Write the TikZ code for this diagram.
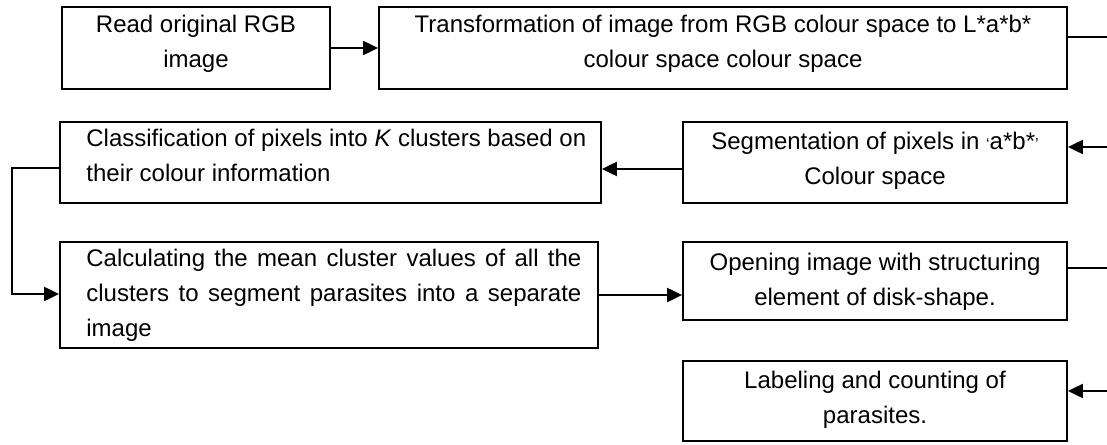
\documentclass[tikz,border=0pt]{standalone}
\usepackage{fontspec}
\setmainfont{Liberation Sans}
\usetikzlibrary{arrows.meta,fit}
\begin{document}
\begin{tikzpicture}[x=0.5pt,y=-0.5pt,
  box/.style={draw, line width=0.9pt, inner sep=0pt, fit={#1}},
  txt/.style={inner sep=0pt, anchor=north, font=\fontsize{12}{17.5}\selectfont, align=center},
  link/.style={line width=1.05pt},
  arrow/.style={link, -{Triangle[length=7.5pt,width=7pt]}}]
\useasboundingbox (0,0) rectangle (1107,444);

% process boxes
\node[box={(62,7) (330,89)}]     (read)  {};
\node[box={(379,7) (1067,89)}]   (trans) {};
\node[box={(683,122) (1067,203)}] (seg)  {};
\node[box={(60,122) (601,203)}]  (class) {};
\node[box={(60,242) (598,348)}]  (calc)  {};
\node[box={(683,242) (1067,320)}] (open) {};
\node[box={(683,361) (1067,441)}] (label) {};

% box texts
\node[txt] (tread)  at ([yshift=-4.5pt]read.north)  {Read original RGB\\image};
\node[txt] (ttrans) at ([yshift=-4.5pt]trans.north) {Transformation of image from RGB colour space to L*a*b*\\colour space colour space};
\node[txt] (tseg)   at ([yshift=-5.5pt]seg.north)   {Segmentation of pixels in {\footnotesize‘}a*b*{\footnotesize’}\\Colour space};
\node[txt, anchor=north west, align=left] (tclass) at (86,129)
  {Classification of pixels into \textit{K} clusters based on\\their colour information};
\node[txt, anchor=north west, align=justify, text width=247.5pt] (tcalc) at (86,249)
  {Calculating the mean cluster values of all the\linebreak clusters to segment parasites into a separate\linebreak image};
\node[txt] (topen)  at ([yshift=-6pt]open.north)  {Opening image with structuring\\element of disk-shape.};
\node[txt] (tlabel) at ([yshift=-5.5pt]label.north) {Labeling and counting of\\parasites.};

% loose ends at the right margin
\coordinate (r1) at (1107,37);
\coordinate (r2) at (1107,147);
\coordinate (r3) at (1107,268);
\coordinate (r4) at (1107,391);
\coordinate (l1) at (12,168);
\coordinate (l2) at (12,294);

% connectors
\draw[arrow] (read) -- (trans);
\draw[link]  (trans.east |- r1) -- (r1);
\draw[arrow] (r2) -- (seg.east |- r2);
\draw[arrow] (seg.west |- 0,169) -- (class.east |- 0,169);
\draw[arrow] (class.west |- l1) -- (l1) -- (l2) -- (calc.west |- l2);
\draw[arrow] (calc.east |- 0,295) -- (open.west |- 0,295);
\draw[link]  (open.east |- r3) -- (r3);
\draw[arrow] (r4) -- (label.east |- r4);
\end{tikzpicture}
\end{document}
